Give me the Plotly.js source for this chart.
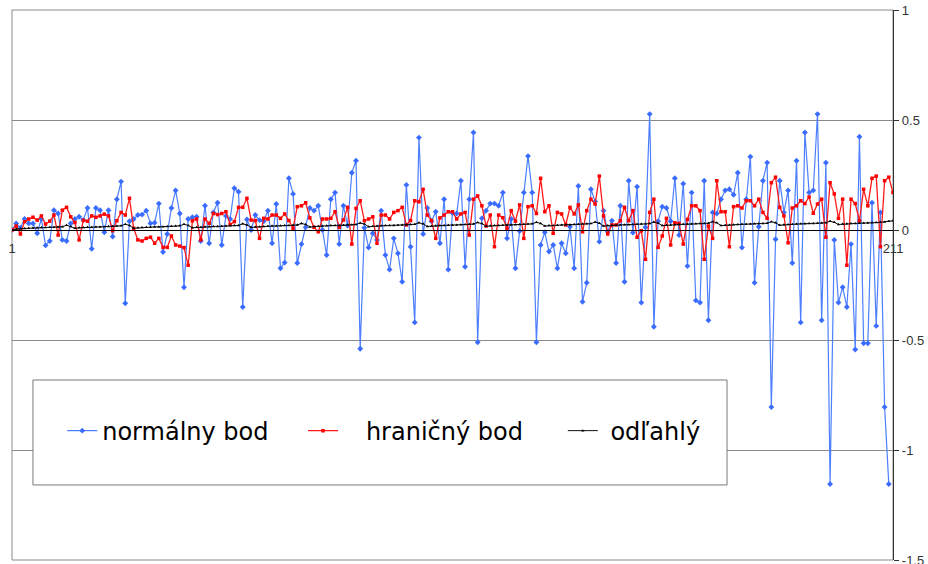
<!DOCTYPE html>
<html><head><meta charset="utf-8">
<script src="https://cdn.plot.ly/plotly-3.0.1.min.js"></script>
<style>html,body{margin:0;padding:0;background:#fff}</style>
</head><body><div id="chart" style="width:928px;height:564px"></div>
<script>
const seriesNames = ['normálny bod', 'hraničný bod', 'odľahlý'];
const xTickValues = [1, 211];
const xTickLabels = ['1', '211'];
const yTickValues = [-1.5, -1, -0.5, 0, 0.5, 1];
const yTickLabels = ['-1.5', '-1', '-0.5', '0', '0.5', '1'];

const normal = [
 0, 0.03, 0.01, 0.05, 0.03, 0.03, -0.015, 0.05, -0.07, -0.05,
 0.09, 0.075, -0.045, -0.05, 0.03, 0.05, 0.06, 0.045, 0.1, -0.085,
 0.1, 0.09, -0.01, 0.09, -0.03, 0.14, 0.22, -0.333, 0.04, 0.05,
 0.068, 0.07, 0.088, 0.03, 0.033, 0.12, -0.1, -0.018, 0.1, 0.18,
 0.075, -0.26, 0.05, 0.058, 0.06, -0.05, 0.11, -0.06, 0.08, 0.124,
 -0.068, 0.064, 0.05, 0.19, 0.174, -0.35, 0.048, 0.0, 0.068, 0.045,
 0.04, 0.088, -0.06, 0.118, -0.174, -0.148, 0.235, 0.164, -0.15, -0.064,
 0.012, 0.1, 0.088, 0.11, 0.0, -0.114, 0.14, 0.17, -0.064, 0.11,
 0.02, 0.26, 0.315, -0.54, 0.01, -0.08, -0.015, -0.045, 0.088, -0.114,
 -0.18, -0.038, -0.106, -0.235, 0.205, -0.076, -0.42, 0.42, -0.018, 0.1,
 0.04, 0.083, -0.06, 0.14, -0.18, 0.077, 0.075, 0.224, -0.167, 0.14,
 0.443, -0.51, 0.053, 0.088, 0.12, 0.12, 0.11, 0.17, -0.038, 0.05,
 -0.174, -0.005, 0.17, 0.336, 0.17, -0.51, -0.068, -0.01, -0.098, -0.068,
 -0.174, -0.06, -0.106, 0.015, -0.174, 0.2, -0.326, -0.24, 0.185, 0.13,
 -0.053, 0.088, -0.008, 0.042, -0.15, 0.11, -0.235, 0.224, -0.012, 0.197,
 -0.33, 0.012, 0.527, -0.44, 0.04, 0.106, 0.1, 0.04, 0.235, -0.023,
 0.21, -0.164, 0.17, -0.32, -0.33, 0.224, -0.41, 0.08, 0.075, 0.14,
 0.18, 0.185, 0.16, 0.26, -0.08, 0.14, 0.333, -0.24, 0.015, 0.224,
 0.306, -0.805, -0.042, 0.224, 0.08, 0.18, -0.15, 0.315, -0.42, 0.443,
 0.17, 0.18, 0.527, -0.41, 0.306, -1.155, -0.045, -0.33, -0.26, -0.35,
 -0.064, -0.543, 0.424, -0.515, -0.515, 0.124, -0.436, 0.08, -0.805, -1.155,
 null
];

const border = [
 0, 0.018, -0.018, 0.038, 0.05, 0.058, 0.045, 0.064, 0.027, 0.04,
 0.068, -0.023, 0.09, 0.103, 0.06, 0.034, -0.045, 0.044, 0.04, 0.064,
 0.058, 0.064, 0.072, 0.064, -0.003, 0.042, 0.08, 0.068, 0.144, 0.008,
 -0.045, -0.05, -0.038, -0.033, -0.06, -0.038, -0.079, -0.079, -0.027, -0.068,
 -0.073, -0.08, -0.16, 0.042, 0.05, -0.045, 0.05, 0.03, 0.075, 0.07,
 0.075, 0.083, 0.025, 0.038, 0.103, 0.103, 0.144, 0.045, 0.043, -0.038,
 0.053, 0.05, 0.068, 0.068, 0.053, 0.073, 0.043, 0.008, 0.106, 0.11,
 0.124, 0.055, 0.012, -0.008, 0.05, 0.05, 0.053, 0.083, 0.012, 0.045,
 0.103, -0.064, 0.098, 0.133, 0.042, 0.05, 0.06, -0.06, 0.068, 0.068,
 0.05, 0.08, 0.088, 0.103, 0.023, 0.043, 0.133, 0.128, 0.185, 0.068,
 0.043, -0.038, 0.055, 0.068, 0.083, 0.083, 0.05, 0.073, 0.08, -0.023,
 0.14, 0.155, 0.11, 0.018, 0.068, -0.076, 0.068, 0.056, 0.008, 0.088,
 0.04, 0.114, -0.038, 0.106, 0.11, 0.075, 0.235, 0.083, 0.11, -0.015,
 0.08, 0.073, 0.023, 0.103, 0.073, 0.114, -0.008, 0.088, 0.14, 0.118,
 0.245, 0.064, -0.018, 0.023, 0.023, 0.042, 0.103, 0.042, 0.088, -0.033,
 -0.003, -0.133, 0.08, 0.14, -0.079, -0.027, 0.053, -0.068, 0.033, 0.03,
 -0.064, 0.048, 0.11, 0.11, 0.088, -0.133, 0.018, -0.038, 0.224, 0.083,
 0.083, -0.076, 0.106, 0.11, 0.1, 0.133, 0.133, 0.11, 0.14, 0.08,
 0.053, 0.215, 0.24, 0.103, 0.064, -0.058, 0.1, 0.11, 0.133, 0.12,
 0.15, 0.076, 0.118, 0.14, -0.033, 0.215, 0.164, 0.053, 0.14, -0.16,
 0.14, 0.12, 0.042, 0.185, 0.11, 0.235, 0.245, -0.076, 0.224, 0.24,
 0.17
];

const outlier = [
 0, 0.004, 0.006, 0.007, 0.008, 0.009, 0.010, 0.011, 0.011, 0.012, 0.013, 0.014, 0.015, 0.022, 0.016,
 0.008, 0.010, 0.011, 0.012, 0.013, 0.014, 0.014, 0.015, 0.016, 0.017, 0.018, 0.019, 0.026, 0.021,
 0.008, 0.010, 0.011, 0.012, 0.013, 0.014, 0.014, 0.015, 0.016, 0.017, 0.018, 0.019, 0.026, 0.021,
 0.010, 0.012, 0.013, 0.014, 0.015, 0.016, 0.016, 0.017, 0.018, 0.019, 0.020, 0.021, 0.028, 0.023,
 0.012, 0.014, 0.015, 0.016, 0.017, 0.018, 0.018, 0.019, 0.020, 0.021, 0.022, 0.023, 0.030, 0.025,
 0.014, 0.016, 0.017, 0.018, 0.019, 0.020, 0.020, 0.021, 0.022, 0.023, 0.024, 0.025, 0.032, 0.027,
 0.015, 0.017, 0.018, 0.019, 0.020, 0.021, 0.021, 0.022, 0.023, 0.024, 0.025, 0.026, 0.033, 0.028,
 0.016, 0.018, 0.019, 0.020, 0.021, 0.022, 0.022, 0.023, 0.024, 0.025, 0.026, 0.027, 0.034, 0.029,
 0.017, 0.019, 0.020, 0.021, 0.022, 0.023, 0.023, 0.024, 0.025, 0.026, 0.027, 0.028, 0.035, 0.030,
 0.018, 0.020, 0.021, 0.022, 0.023, 0.024, 0.024, 0.025, 0.026, 0.027, 0.028, 0.029, 0.036, 0.031,
 0.018, 0.020, 0.021, 0.022, 0.023, 0.024, 0.024, 0.025, 0.026, 0.027, 0.028, 0.029, 0.036, 0.031,
 0.020, 0.022, 0.023, 0.024, 0.025, 0.026, 0.026, 0.027, 0.028, 0.029, 0.030, 0.031, 0.038, 0.033,
 0.020, 0.022, 0.023, 0.024, 0.025, 0.026, 0.026, 0.027, 0.028, 0.029, 0.030, 0.031, 0.038, 0.033,
 0.022, 0.024, 0.025, 0.026, 0.027, 0.028, 0.028, 0.029, 0.030, 0.031, 0.032, 0.033, 0.040, 0.035,
 0.025, 0.027, 0.028, 0.029, 0.030, 0.031, 0.031, 0.032, 0.033, 0.034, 0.035, 0.036, 0.040, 0.042
];

const categories = outlier.map((_, i) => i + 1);
const NB = '\u00a0';
const legendFont = {family: 'DejaVu Sans', size: 24, color: '#000'};

const traces = [
  {x: categories, y: normal, name: seriesNames[0], type: 'scatter', mode: 'lines+markers',
   line: {color: '#4d7fff', width: 1.2}, marker: {symbol: 'diamond', size: 4.5, color: '#3a6cff'},
   legend: 'legend'},
  {x: categories, y: border, name: NB + NB + NB + seriesNames[1], type: 'scatter', mode: 'lines+markers',
   line: {color: '#ff1a1a', width: 1.3}, marker: {symbol: 'square', size: 3.5, color: '#ff0000'},
   legend: 'legend2'},
  {x: categories, y: outlier, name: NB + seriesNames[2], type: 'scatter', mode: 'lines+markers',
   line: {color: '#111', width: 1}, marker: {symbol: 'triangle-up', size: 3, color: '#000'},
   legend: 'legend3'}
];

const legBase = {orientation: 'v', xanchor: 'left', yanchor: 'middle', y: 0.2345,
  bgcolor: 'rgba(0,0,0,0)', borderwidth: 0, font: legendFont, itemclick: false};

const layout = {
  width: 928, height: 564,
  margin: {l: 12, r: 35, t: 10, b: 4},
  paper_bgcolor: '#fff', plot_bgcolor: '#fff',
  showlegend: true,
  xaxis: {range: [1, 211], anchor: 'free', position: 0.6,
    showline: true, linecolor: '#000', linewidth: 1,
    showgrid: false, zeroline: false,
    tickmode: 'array', tickvals: xTickValues, ticktext: xTickLabels,
    ticks: 'outside', ticklen: 6, tickcolor: 'rgba(0,0,0,0)',
    tickfont: {family: 'Liberation Sans', size: 13, color: '#333'}},
  yaxis: {range: [-1.5, 1], side: 'right',
    tickmode: 'array', tickvals: yTickValues, ticktext: yTickLabels,
    ticklabeloverflow: 'allow',
    showgrid: true, gridcolor: '#8a8a8a', gridwidth: 1, zeroline: false,
    showline: true, linecolor: '#333', linewidth: 1.2,
    ticks: 'outside', ticklen: 5, tickcolor: '#333',
    tickfont: {family: 'Liberation Sans', size: 13, color: '#333'}},
  legend: Object.assign({}, legBase, {x: 0.057}),
  legend2: Object.assign({}, legBase, {x: 0.3303}),
  legend3: Object.assign({}, legBase, {x: 0.6252}),
  shapes: [
    {type: 'rect', xref: 'paper', yref: 'paper', x0: 0, x1: 1, y0: 0, y1: 1,
     line: {color: '#8a8a8a', width: 1}, layer: 'below'},
    {type: 'rect', xref: 'paper', yref: 'paper', x0: 0.0238, x1: 0.8116, y0: 0.1364, y1: 0.3273,
     line: {color: '#7a7a7a', width: 1}, fillcolor: '#fff', layer: 'above'}
  ]
};

Plotly.newPlot('chart', traces, layout, {displayModeBar: false, staticPlot: true});
</script>
</body></html>
